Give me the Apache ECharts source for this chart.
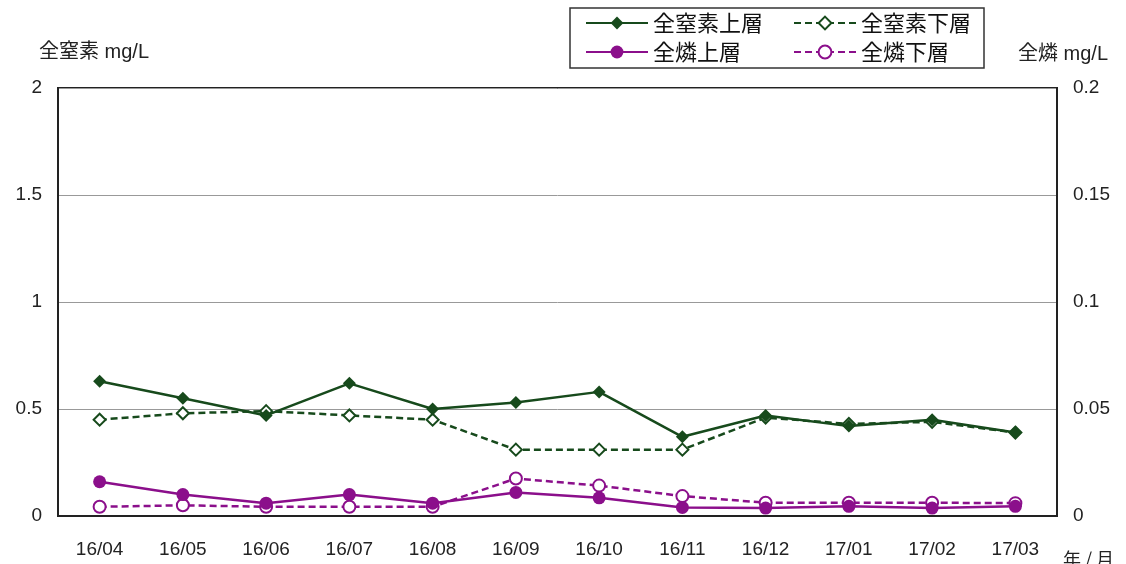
<!DOCTYPE html>
<html><head><meta charset="utf-8">
<script src="https://cdn.jsdelivr.net/npm/echarts@6/dist/echarts.min.js"></script>
<style>html,body{margin:0;padding:0;background:#fff}#c{width:1126px;height:564px}</style>
</head><body><div id="c"></div>
<script>
const categories = ['16/04','16/05','16/06','16/07','16/08','16/09','16/10','16/11','16/12','17/01','17/02','17/03'];
const nUpper = [0.63,0.55,0.47,0.62,0.50,0.53,0.58,0.37,0.47,0.42,0.45,0.39];
const nLower = [0.45,0.48,0.49,0.47,0.45,0.31,0.31,0.31,0.46,0.43,0.44,0.39];
const pUpper = [0.016,0.010,0.006,0.010,0.006,0.011,0.0085,0.004,0.0037,0.0045,0.0037,0.0045];
const pLower = [0.0043,0.005,0.0043,0.0043,0.0043,0.0175,0.0142,0.0093,0.0062,0.0062,0.0062,0.006];
const leftTicks = ['0','0.5','1','1.5','2'];
const rightTicks = ['0','0.05','0.1','0.15','0.2'];

const green = '#174a1c', purple = '#8b0f8b';
const font = '"Liberation Sans", "Noto Sans CJK JP", sans-serif';
const chart = echarts.init(document.getElementById('c'));
const legendText = {fontSize: 22, color: '#111', fontFamily: '"Noto Sans CJK JP", sans-serif'};
chart.setOption({
  animation: false,
  textStyle: {fontFamily: font},
  legend: [
    {data: ['全窒素上層','全窒素下層'], left: 583, top: 10, itemWidth: 62, itemHeight: 16, itemGap: 30, textStyle: legendText, padding: 2},
    {data: ['全燐上層','全燐下層'], left: 583, top: 39, itemWidth: 62, itemHeight: 16, itemGap: 52, textStyle: legendText, padding: 2}
  ],
  graphic: [
    {type: 'rect', shape: {x: 570, y: 8, width: 414, height: 60}, style: {fill: 'none', stroke: '#333', lineWidth: 1.5}},
    {type: 'text', left: 39, top: 42, style: {text: '全窒素 mg/L', fontSize: 20, fill: '#222', fontFamily: font}},
    {type: 'text', left: 1018, top: 44, style: {text: '全燐 mg/L', fontSize: 20, fill: '#222', fontFamily: font}},
    {type: 'text', left: 1063, top: 550, style: {text: '年 / 月', fontSize: 18, fill: '#222', fontFamily: '"Noto Sans CJK JP", sans-serif'}}
  ],
  grid: {left: 58, right: 69, top: 88, bottom: 48, show: true, borderColor: '#222', borderWidth: 2},
  xAxis: {
    type: 'category', data: categories, boundaryGap: true,
    axisLine: {lineStyle: {color: '#222', width: 2}},
    axisTick: {inside: true, length: 6, lineStyle: {color: '#222'}},
    axisLabel: {fontSize: 19, color: '#222', margin: 24}
  },
  yAxis: [
    {type: 'value', min: 0, max: 2, interval: 0.5,
     axisLine: {show: true, lineStyle: {color: '#222', width: 2}}, axisTick: {show: false},
     axisLabel: {fontSize: 19, color: '#222', margin: 16, formatter: (v, i) => leftTicks[i]},
     splitLine: {lineStyle: {color: '#999', width: 1}}},
    {type: 'value', min: 0, max: 0.2, interval: 0.05,
     axisLine: {show: true, lineStyle: {color: '#222', width: 2}}, axisTick: {show: false},
     axisLabel: {fontSize: 19, color: '#222', margin: 16, formatter: (v, i) => rightTicks[i]},
     splitLine: {show: false}}
  ],
  series: [
    {name: '全窒素上層', type: 'line', yAxisIndex: 0, data: nUpper, symbol: 'diamond', symbolSize: 13,
     lineStyle: {color: green, width: 2.5}, itemStyle: {color: green}, z: 4},
    {name: '全窒素下層', type: 'line', yAxisIndex: 0, data: nLower, symbol: 'emptyDiamond', symbolSize: 12,
     lineStyle: {color: green, width: 2.5, type: [7, 4]}, itemStyle: {color: green, borderWidth: 2}, z: 3},
    {name: '全燐上層', type: 'line', yAxisIndex: 1, data: pUpper, symbol: 'circle', symbolSize: 13,
     lineStyle: {color: purple, width: 2.5}, itemStyle: {color: purple}, z: 4},
    {name: '全燐下層', type: 'line', yAxisIndex: 1, data: pLower, symbol: 'emptyCircle', symbolSize: 12,
     lineStyle: {color: purple, width: 2.5, type: [7, 4]}, itemStyle: {color: purple, borderWidth: 2}, z: 3}
  ]
});
</script></body></html>
